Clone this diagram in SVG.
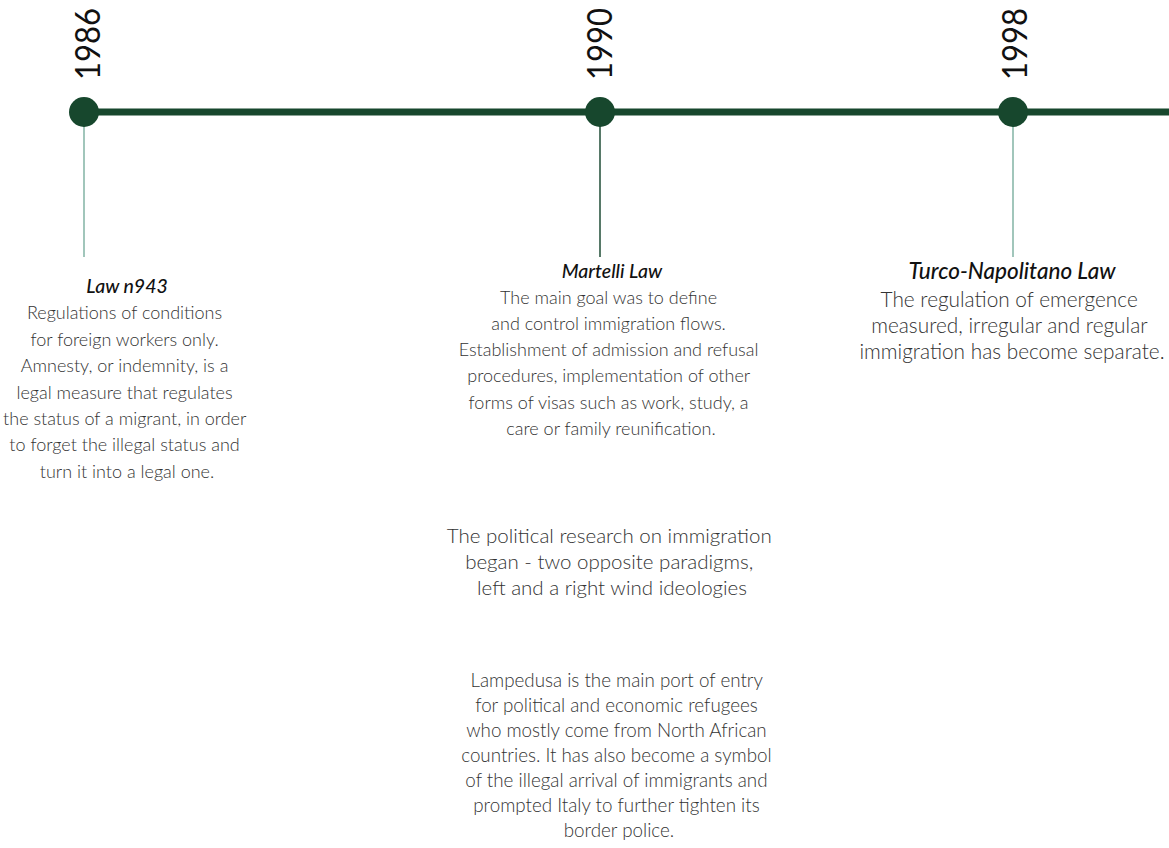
<svg xmlns="http://www.w3.org/2000/svg" width="1169" height="848" viewBox="0 0 1169 848">
<style>
  .bg { fill: #ffffff; }
  .axis { stroke: #17472d; stroke-width: 7; fill: none; }
  .dot { fill: #17472d; }
  .stem { stroke: #82b3a4; stroke-width: 1.5; fill: none; }
  .stem-dark { stroke: #1f4d36; stroke-width: 1.5; fill: none; }
  .year { font-family: Lato, "Liberation Sans", sans-serif; font-size: 34px; font-weight: 400; fill: #111111; }
  .title { font-family: Lato, "Liberation Sans", sans-serif; font-style: italic; font-weight: 500; font-size: 19.5px; fill: #111111; text-anchor: middle; }
  .title-lg { font-size: 22.5px; }
  .body { font-family: Lato, "Liberation Sans", sans-serif; font-weight: 300; font-size: 18px; fill: #333333; text-anchor: middle; }
  .body-lg { font-size: 20.8px; }
</style>
<rect class="bg" x="0" y="0" width="1169" height="848"/>

<g id="connectors">
  <line class="axis" x1="84" y1="112" x2="1169" y2="112"/>
  <line class="stem" x1="84" y1="112" x2="84" y2="257"/>
  <line class="stem-dark" x1="600" y1="112" x2="600" y2="257"/>
  <line class="stem" x1="1013" y1="112" x2="1013" y2="257"/>
</g>

<g id="node-1986">
  <circle class="dot" cx="84" cy="112" r="15"/>
  <text class="year" transform="translate(100,80) rotate(-90)" textLength="72" lengthAdjust="spacingAndGlyphs">1986</text>
  <text class="title" x="127" y="293">Law n943</text>
  <text class="body">
    <tspan x="127" y="319">Regulations of conditions</tspan>
    <tspan x="127" y="346">for foreign workers only.</tspan>
    <tspan x="127" y="372">Amnesty, or indemnity, is a</tspan>
    <tspan x="127" y="399">legal measure  that regulates</tspan>
    <tspan x="127" y="425">the status of a migrant, in order</tspan>
    <tspan x="127" y="451">to forget the illegal status  and</tspan>
    <tspan x="127" y="478">turn it into a legal one.</tspan>
  </text>
</g>

<g id="node-1990">
  <circle class="dot" cx="600" cy="112" r="15"/>
  <text class="year" transform="translate(612,80) rotate(-90)" textLength="72" lengthAdjust="spacingAndGlyphs">1990</text>
  <text class="title" x="612" y="278">Martelli Law</text>
  <text class="body">
    <tspan x="611" y="304">The main goal was to define</tspan>
    <tspan x="611" y="330">and control immigration flows.</tspan>
    <tspan x="611" y="356">Establishment of admission and refusal</tspan>
    <tspan x="611" y="382">procedures, implementation  of other</tspan>
    <tspan x="611" y="409">forms  of visas such as work, study, a</tspan>
    <tspan x="611" y="435">care or family reunification.</tspan>
  </text>
</g>

<g id="node-1998">
  <circle class="dot" cx="1013" cy="112" r="15"/>
  <text class="year" transform="translate(1027,80) rotate(-90)" textLength="72" lengthAdjust="spacingAndGlyphs">1998</text>
  <text class="title title-lg" x="1012" y="279">Turco-Napolitano Law</text>
  <text class="body body-lg">
    <tspan x="1012" y="307">The regulation of emergence</tspan>
    <tspan x="1012" y="333">measured, irregular and regular</tspan>
    <tspan x="1012" y="359">immigration has become separate.</tspan>
  </text>
</g>

<g id="note-political">
  <text class="body" style="font-size:20.5px">
    <tspan x="612" y="543">The political research on immigration</tspan>
    <tspan x="612" y="569">began - two opposite paradigms,</tspan>
    <tspan x="612" y="595">left and a right wind ideologies</tspan>
  </text>
</g>

<g id="note-lampedusa">
  <text class="body" style="font-size:18.8px">
    <tspan x="619" y="687">Lampedusa is the main port of entry</tspan>
    <tspan x="619" y="712">for political and economic refugees</tspan>
    <tspan x="619" y="737">who mostly come from North African</tspan>
    <tspan x="619" y="762">countries. It has also become a symbol</tspan>
    <tspan x="619" y="787">of the illegal arrival of immigrants and</tspan>
    <tspan x="619" y="812">prompted  Italy to further tighten its</tspan>
    <tspan x="619" y="837">border police.</tspan>
  </text>
</g>
</svg>
